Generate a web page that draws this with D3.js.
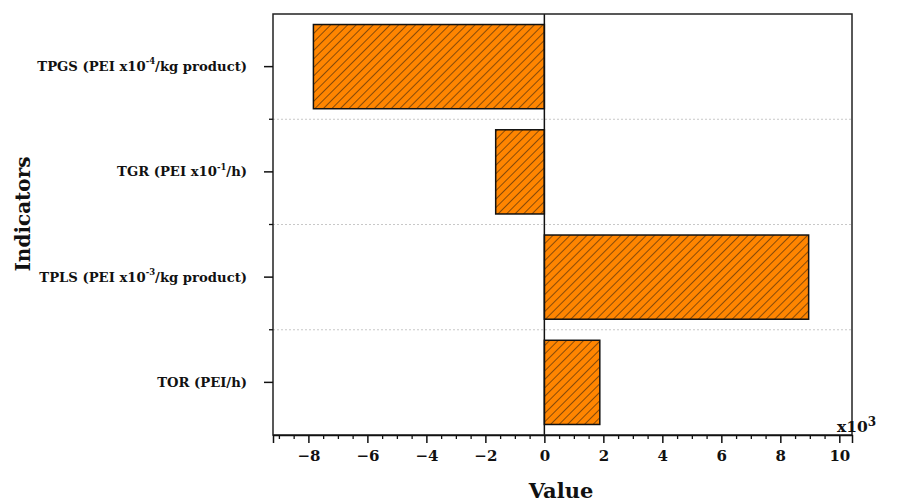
<!DOCTYPE html>
<html>
<head>
<meta charset="utf-8">
<script src="https://cdn.jsdelivr.net/npm/d3@7"></script>
<style>
  body { margin: 0; background: #fff; }
  text { font-family: "DejaVu Serif", "Liberation Serif", serif; font-weight: bold; fill: #111; }
</style>
</head>
<body>
<script>
// data (values x10^3)
const categories = ["TPGS", "TGR", "TPLS", "TOR"];
const values = [-7.83, -1.65, 8.96, 1.88];
// label parts: [main, superscript, rest]
const labelParts = [
  ["TPGS (PEI x10", "-4", "/kg product)"],
  ["TGR (PEI x10", "-1", "/h)"],
  ["TPLS (PEI x10", "-3", "/kg product)"],
  ["TOR (PEI/h)", "", ""]
];
const xTicks = [-8, -6, -4, -2, 0, 2, 4, 6, 8, 10];

const width = 898, height = 502;
const margin = {top: 14, right: 46, bottom: 67, left: 273};
const iw = width - margin.left - margin.right;
const ih = height - margin.top - margin.bottom;

const svg = d3.select("body").append("svg")
  .attr("width", width).attr("height", height);

const defs = svg.append("defs");
const pat = defs.append("pattern")
  .attr("id", "hatch")
  .attr("patternUnits", "userSpaceOnUse")
  .attr("width", 6).attr("height", 6)
  .attr("patternTransform", "rotate(45)");
pat.append("rect").attr("width", 6).attr("height", 6).attr("fill", "#ff8500");
pat.append("line").attr("x1", 0).attr("y1", 0).attr("x2", 0).attr("y2", 6)
  .attr("stroke", "#111").attr("stroke-width", 1);

const g = svg.append("g").attr("transform", `translate(${margin.left},${margin.top})`);

const x = d3.scaleLinear().domain([-9.2, 10.43]).range([0, iw]);
const y = d3.scaleBand().domain(categories).range([0, ih]).paddingInner(0.2).paddingOuter(0.1);

// dotted separators between bands
const bounds = categories.slice(1).map(c => y(c) - y.step() * y.paddingInner() / 2);
g.selectAll(".grid").data(bounds).join("line")
  .attr("x1", 0).attr("x2", iw)
  .attr("y1", d => d).attr("y2", d => d)
  .attr("stroke", "#c8c8c8").attr("stroke-dasharray", "2,2").attr("stroke-width", 1);

// bars
g.selectAll(".bar").data(values).join("rect")
  .attr("x", d => x(Math.min(0, d)))
  .attr("width", d => Math.abs(x(d) - x(0)))
  .attr("y", (d, i) => y(categories[i]))
  .attr("height", y.bandwidth())
  .attr("fill", "url(#hatch)")
  .attr("stroke", "#111").attr("stroke-width", 1.5);

// zero line
g.append("line")
  .attr("x1", x(0)).attr("x2", x(0)).attr("y1", 0).attr("y2", ih)
  .attr("stroke", "#111").attr("stroke-width", 1.5);

// frame
g.append("rect").attr("width", iw).attr("height", ih)
  .attr("fill", "none").attr("stroke", "#222").attr("stroke-width", 1.5);

// x axis
const minor = d3.range(-9, 10.5, 0.5).filter(v => v % 2 !== 0);
g.append("g").attr("transform", `translate(0,${ih})`)
  .call(d3.axisBottom(x).tickValues(minor).tickSize(4).tickFormat(""))
  .call(a => a.select(".domain").remove())
  .call(a => a.selectAll("line").attr("stroke", "#111").attr("stroke-width", 1.3));
const xa = g.append("g").attr("transform", `translate(0,${ih})`)
  .call(d3.axisBottom(x).tickValues(xTicks).tickSize(8).tickPadding(7)
    .tickFormat(d => d < 0 ? "\u2212" + Math.abs(d) : d));
xa.select(".domain").attr("stroke", "#111").attr("stroke-width", 1.5);
xa.selectAll("line").attr("stroke", "#111").attr("stroke-width", 1.5);
xa.selectAll("text").attr("font-size", 15).attr("font-family", null).attr("fill", "#111");

// y axis
const ya = g.append("g")
  .call(d3.axisLeft(y).tickSize(9).tickFormat(""));
ya.select(".domain").remove();
ya.selectAll("line").attr("stroke", "#111").attr("stroke-width", 1.5);
g.selectAll(".ymin").data(bounds).join("line")
  .attr("x1", -4).attr("x2", 0).attr("y1", d => d).attr("y2", d => d)
  .attr("stroke", "#111").attr("stroke-width", 1.3);

const lab = g.selectAll(".lab").data(labelParts).join("text")
  .attr("x", -26)
  .attr("y", (d, i) => y(categories[i]) + y.bandwidth() / 2)
  .attr("dy", "0.35em")
  .attr("text-anchor", "end")
  .attr("font-size", 13.2);
lab.append("tspan").text(d => d[0]);
lab.append("tspan").attr("font-size", 8.5).attr("dy", "-0.8em").text(d => d[1]);
lab.append("tspan").attr("dy", d => d[1] ? "0.5em" : 0).text(d => d[2]);

// x10^3
const mult = svg.append("text").attr("x", 837).attr("y", 432).attr("font-size", 15.5);
mult.append("tspan").text("x10");
mult.append("tspan").attr("font-size", 12).attr("dy", "-0.5em").text("3");

// axis titles
svg.append("text").attr("x", 561).attr("y", 498).attr("text-anchor", "middle")
  .attr("font-size", 21).text("Value");
svg.append("text").attr("transform", "translate(30,214) rotate(-90)")
  .attr("text-anchor", "middle").attr("font-size", 20).text("Indicators");
</script>
</body>
</html>
